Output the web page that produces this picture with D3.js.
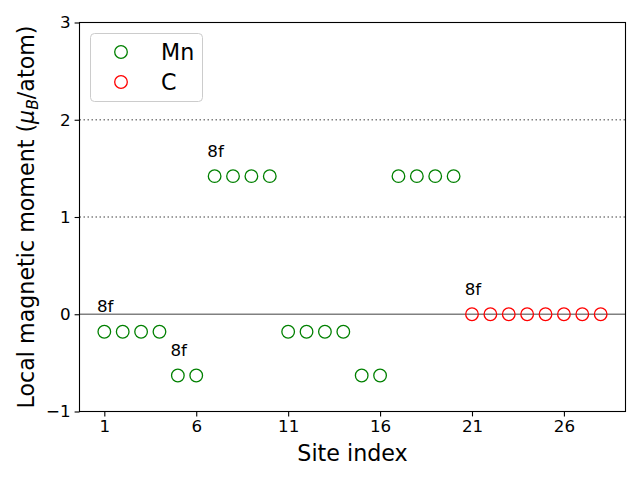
<!DOCTYPE html>
<html><head><meta charset="utf-8">
<script src="https://cdn.jsdelivr.net/npm/d3@7"></script>
<style>body{margin:0;background:#fff}svg{display:block;font-family:"DejaVu Sans",sans-serif}</style>
</head><body><svg id="c" width="640" height="480"></svg>
<script>
const mnSites = [1,2,3,4,5,6,7,8,9,10,11,12,13,14,15,16,17,18,19,20];
const mnMoments = [-0.18,-0.18,-0.18,-0.18,-0.63,-0.63,1.42,1.42,1.42,1.42,-0.18,-0.18,-0.18,-0.18,-0.63,-0.63,1.42,1.42,1.42,1.42];
const cSites = [21,22,23,24,25,26,27,28];
const cMoments = [0,0,0,0,0,0,0,0];
const annotations = [{site:1,value:-0.18,text:"8f"},{site:5,value:-0.63,text:"8f"},{site:7,value:1.42,text:"8f"},{site:21,value:0,text:"8f"}];
const xTicks = [1,6,11,16,21,26];
const yTicks = [-1,0,1,2,3];
const dottedLevels = [1,2];

const svg = d3.select("#c");
const L=79.5,R=625.5,T=22.5,B=411.5;
const x = d3.scaleLinear().domain([-0.35,29.35]).range([L,R]);
const y = d3.scaleLinear().domain([-1,3]).range([B,T]);

// reference lines
svg.selectAll(".dot").data(dottedLevels).enter().append("line")
  .attr("x1",L).attr("x2",R).attr("y1",d=>y(d)).attr("y2",d=>y(d))
  .attr("stroke","#808080").attr("stroke-width",1.5).attr("stroke-dasharray","1.5,2.5");
svg.append("line").attr("x1",L).attr("x2",R).attr("y1",y(0)).attr("y2",y(0))
  .attr("stroke","#808080").attr("stroke-width",1.5);

// points
svg.selectAll(".mn").data(mnSites).enter().append("circle")
  .attr("cx",d=>x(d)).attr("cy",(d,i)=>y(mnMoments[i])).attr("r",6.3)
  .attr("fill","none").attr("stroke","green").attr("stroke-width",1.3);
svg.selectAll(".cc").data(cSites).enter().append("circle")
  .attr("cx",d=>x(d)).attr("cy",(d,i)=>y(cMoments[i])).attr("r",6.3)
  .attr("fill","none").attr("stroke","red").attr("stroke-width",1.3);

// annotations
svg.selectAll(".ann").data(annotations).enter().append("text")
  .attr("x",d=>x(d.site-0.4)).attr("y",d=>y(d.value+0.2))
  .attr("font-size",16.7).attr("fill","#000").text(d=>d.text);

// axes
const xa = svg.append("g").attr("transform",`translate(0,${B})`)
  .call(d3.axisBottom(x).tickValues(xTicks).tickSize(4.9).tickPadding(4).tickSizeOuter(0));
const ya = svg.append("g").attr("transform",`translate(${L},0)`)
  .call(d3.axisLeft(y).tickValues(yTicks).tickSize(4.9).tickPadding(4).tickSizeOuter(0).tickFormat(d=>d<0?"\u2212"+Math.abs(d):d));
[xa,ya].forEach(a=>{a.selectAll("text").attr("font-size",16.7).attr("font-family","DejaVu Sans").attr("fill","#000");
  a.selectAll("line").attr("stroke","#000").attr("stroke-width",1.1);a.select(".domain").remove();});
svg.append("rect").attr("x",L).attr("y",T).attr("width",R-L).attr("height",B-T)
  .attr("fill","none").attr("stroke","#000").attr("stroke-width",1.1);

// axis labels
svg.append("text").attr("x",(L+R)/2).attr("y",461).attr("text-anchor","middle")
  .attr("font-size",22.2).text("Site index");
const yl = svg.append("text").attr("transform",`translate(34,${(T+B)/2}) rotate(-90)`)
  .attr("text-anchor","middle").attr("font-size",22.2);
yl.append("tspan").text("Local magnetic moment (");
yl.append("tspan").attr("font-style","italic").text("\u03bc");
yl.append("tspan").attr("font-style","italic").attr("font-size",15.5).attr("dy",4).text("B");
yl.append("tspan").attr("dy",-4).text("/atom)");

// legend
const lg = svg.append("g");
lg.append("rect").attr("x",90.5).attr("y",33.5).attr("width",112).attr("height",68).attr("rx",4)
  .attr("fill","#fff").attr("fill-opacity",0.8).attr("stroke","#cccccc").attr("stroke-width",1);
[["Mn","green"],["C","red"]].forEach((e,i)=>{
  lg.append("circle").attr("cx",121).attr("cy",52+i*30).attr("r",6.3).attr("fill","none").attr("stroke",e[1]).attr("stroke-width",1.3);
  lg.append("text").attr("x",161).attr("y",60+i*30).attr("font-size",22.2).text(e[0]);
});
</script></body></html>
